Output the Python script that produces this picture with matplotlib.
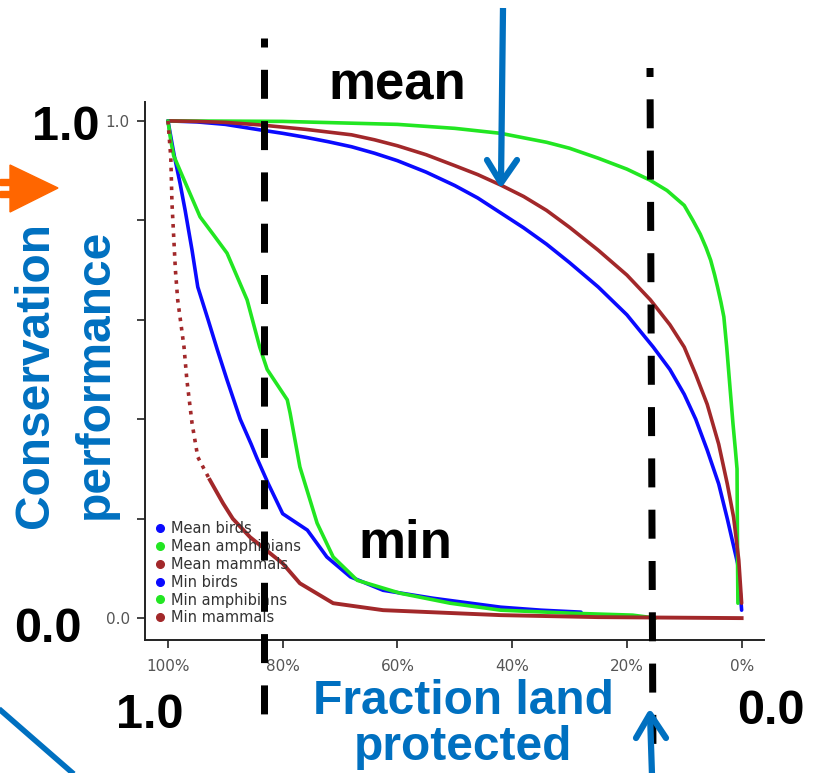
import matplotlib
matplotlib.use("Agg")
import matplotlib.pyplot as plt
from matplotlib.lines import Line2D
from matplotlib.patches import Polygon, Rectangle

W, H = 818, 773

# ---------------- data (x = % land protected, y = conservation performance) -------------
mean_birds_x = [100, 95, 90, 84, 80, 76, 72, 68, 64, 60, 55, 50, 46, 42, 38, 34, 30, 25, 20,
                15.4, 12.5, 10, 8, 6, 4, 2.5, 1.5, 0.7, 0.3, 0]
mean_birds_y = [1.0, 0.998, 0.993, 0.982, 0.975, 0.967, 0.958, 0.948, 0.935, 0.92, 0.897,
                0.87, 0.845, 0.815, 0.785, 0.752, 0.715, 0.666, 0.61, 0.545, 0.5, 0.45, 0.40,
                0.338, 0.27, 0.2, 0.15, 0.11, 0.06, 0.016]

mean_amph_x = [100, 80, 60, 50, 42, 34, 30, 25, 20, 16, 13, 10, 8.5, 7.2, 6.2, 5.4, 4.7, 4.2,
               3.6, 3.1, 2.6, 2.0, 1.5, 1.1, 0.8, 0.75, 0.7, 0.65]
mean_amph_y = [1.0, 0.999, 0.993, 0.985, 0.975, 0.957, 0.945, 0.925, 0.903, 0.881, 0.86,
               0.83, 0.80, 0.772, 0.745, 0.72, 0.69, 0.666, 0.635, 0.606, 0.545, 0.46, 0.39,
               0.34, 0.30, 0.2, 0.1, 0.03]

mean_mamm_x = [100, 95, 90, 84, 76, 68, 64, 60, 55, 50, 46, 42, 38, 34, 30, 25, 20, 15.9,
               12.5, 10, 8, 6, 4, 2.5, 1.4, 0.5, 0]
mean_mamm_y = [1.0, 0.999, 0.997, 0.992, 0.983, 0.972, 0.962, 0.95, 0.932, 0.91, 0.892,
               0.871, 0.848, 0.82, 0.786, 0.74, 0.69, 0.64, 0.59, 0.545, 0.49, 0.43, 0.35,
               0.27, 0.203, 0.117, 0.03]

min_birds_x = [100, 98.9, 97.9, 97, 95.8, 94.8, 93, 91.4, 89.7, 87.4, 85.5, 84.5, 82.5, 80,
               78.7, 75.7, 72.3, 68.2, 62.5, 53.8, 42, 35, 28]
min_birds_y = [1.0, 0.93, 0.875, 0.82, 0.74, 0.666, 0.60, 0.54, 0.479, 0.40, 0.35, 0.322, 0.27,
               0.21, 0.20, 0.177, 0.123, 0.083, 0.056, 0.04, 0.022, 0.016, 0.012]

min_amph_x = [100, 99.5, 99, 97.4, 94.4, 92, 89.7, 86.2, 84, 82.7, 79.2, 78.7, 77, 74, 71.2,
              67, 59.5, 50.8, 42, 30, 19, 15]
min_amph_y = [1.0, 0.96, 0.93, 0.887, 0.807, 0.77, 0.734, 0.64, 0.545, 0.50, 0.439, 0.412,
              0.304, 0.191, 0.123, 0.076, 0.05, 0.03, 0.016, 0.01, 0.006, 0.0]

min_mamm_x = [100, 99.5, 99.3, 99.1, 98.7, 98.3, 97.6, 97.2, 96.7, 95.8, 94.8, 92.7, 90.4,
              88.7, 85.7, 80, 77, 71.2, 62.5, 42, 25, 0]
min_mamm_y = [1.0, 0.926, 0.835, 0.79, 0.70, 0.64, 0.58, 0.545, 0.479, 0.392, 0.324, 0.278,
              0.231, 0.20, 0.163, 0.11, 0.07, 0.03, 0.016, 0.006, 0.002, 0.0]

labels = ["Mean birds", "Mean amphibians", "Mean mammals", "Min birds", "Min amphibians", "Min mammals"]
x_ticks = [100, 80, 60, 40, 20, 0]
x_ticklabels = ["100%", "80%", "60%", "40%", "20%", "0%"]
y_ticks = [0.0, 0.2, 0.4, 0.6, 0.8, 1.0]
y_ticklabels = ["0.0", "", "", "", "", "1.0"]

BLUE = "#0a0aff"
GREEN = "#22e622"
BROWN = "#a2282a"
ANN_BLUE = "#0070c0"
ORANGE = "#ff6600"

fig = plt.figure(figsize=(W / 100, H / 100), dpi=100)


def P(x, y):
    return (x / W, 1 - y / H)


# axes: left 145, right 764, top 102, bottom 640 (pixels)
ax = fig.add_axes([145 / W, 1 - 640 / H, (764 - 145) / W, (640 - 102) / H])
ax.set_xlim(104.0, -3.9)
ax.set_ylim(-0.044, 1.038)

series = [
    (mean_birds_x, mean_birds_y, BLUE),
    (mean_amph_x, mean_amph_y, GREEN),
    (mean_mamm_x, mean_mamm_y, BROWN),
    (min_birds_x, min_birds_y, BLUE),
    (min_amph_x, min_amph_y, GREEN),
]
for xs, ys, c in series:
    ax.plot(xs, ys, color=c, lw=2.6, solid_capstyle="round", solid_joinstyle="round")
# min mammals: sparse dotted part on the steep drop, then solid
ax.plot(min_mamm_x[:12], min_mamm_y[:12], color=BROWN, lw=2.6, ls=(0, (1, 1.6)))
ax.plot(min_mamm_x[11:], min_mamm_y[11:], color=BROWN, lw=2.8, solid_joinstyle="round")

for side in ("top", "right"):
    ax.spines[side].set_visible(False)
for side in ("left", "bottom"):
    ax.spines[side].set_linewidth(1.4)
    ax.spines[side].set_color("#222222")
ax.set_xticks(x_ticks)
ax.set_xticklabels(x_ticklabels)
ax.set_yticks(y_ticks)
ax.set_yticklabels(y_ticklabels)
ax.tick_params(axis="both", direction="out", length=6, width=1.2, color="#222222",
               labelcolor="#555555", labelsize=11)
ax.tick_params(axis="x", pad=8)
ax.tick_params(axis="y", pad=5)

handles = [Line2D([], [], ls="none", marker="o", ms=5.5, color=c)
           for c in [BLUE, GREEN, BROWN, BLUE, GREEN, BROWN]]
leg = ax.legend(handles, labels, loc="lower left", bbox_to_anchor=(0.0, 0.008),
                frameon=False, fontsize=10.5, handlelength=0.6, handletextpad=0.45,
                labelspacing=0.2, borderpad=0.2)
for t in leg.get_texts():
    t.set_color("#333333")

# ---------------- annotations ----------------
BOLD = dict(family=["Liberation Sans", "DejaVu Sans"], fontweight="bold")

fig.text(*P(66, 128), "1.0", ha="center", va="center", fontsize=35, color="black", **BOLD)
fig.text(*P(48, 630), "0.0", ha="center", va="center", fontsize=35, color="black", **BOLD)
fig.text(*P(150, 716), "1.0", ha="center", va="center", fontsize=35, color="black", **BOLD)
fig.text(*P(771, 711), "0.0", ha="center", va="center", fontsize=35, color="black", **BOLD)
fig.text(*P(397, 86), "mean", ha="center", va="center", fontsize=38, color="black", **BOLD)
fig.text(*P(405, 544), "min", ha="center", va="center", fontsize=38, color="black", **BOLD)

fig.text(*P(36, 375), "Conservation", ha="center", va="center", rotation=90,
         fontsize=34.5, color=ANN_BLUE, **BOLD)
fig.text(*P(95, 374), "performance", ha="center", va="center", rotation=90,
         fontsize=34.5, color=ANN_BLUE, **BOLD)
fig.text(*P(463, 702), "Fraction land", ha="center", va="center",
         fontsize=34.5, color=ANN_BLUE, **BOLD)
fig.text(*P(463, 748), "protected", ha="center", va="center",
         fontsize=34.5, color=ANN_BLUE, **BOLD)

# dashed vertical lines
lw_px = 7
for x0, y0, x1, y1 in [(264, 38, 264, 715), (650, 68, 653, 760)]:
    fig.add_artist(Line2D([x0 / W, x1 / W], [1 - y0 / H, 1 - y1 / H], color="black",
                          lw=lw_px * 0.72, ls=(20 / lw_px, (29 / lw_px, 22.3 / lw_px)),
                          transform=fig.transFigure))


def fline(pts, color, lw, cap="round"):
    xs = [p[0] / W for p in pts]
    ys = [1 - p[1] / H for p in pts]
    fig.add_artist(Line2D(xs, ys, color=color, lw=lw, solid_capstyle=cap,
                          solid_joinstyle="round", transform=fig.transFigure))


# top arrow
fline([(503, 8), (501, 183)], ANN_BLUE, 4.5, cap="butt")
fline([(487, 160), (501, 183), (517, 160)], ANN_BLUE, 4.5)
# bottom arrow
fline([(652, 775), (650, 714)], ANN_BLUE, 4.5, cap="butt")
fline([(636, 738), (650, 714), (666, 738)], ANN_BLUE, 4.5)
# bottom-left diagonal line
fline([(-2, 708), (76, 776)], ANN_BLUE, 4.0, cap="butt")

# orange arrow
fig.add_artist(Polygon([P(10, 165), P(10, 212), P(58, 188)], closed=True,
                       color=ORANGE, transform=fig.transFigure))
for yb in (179, 191):
    fig.add_artist(Rectangle(P(0, yb + 6), 12 / W, 6 / H, color=ORANGE,
                             transform=fig.transFigure))

fig.savefig("out.png", dpi=100)
